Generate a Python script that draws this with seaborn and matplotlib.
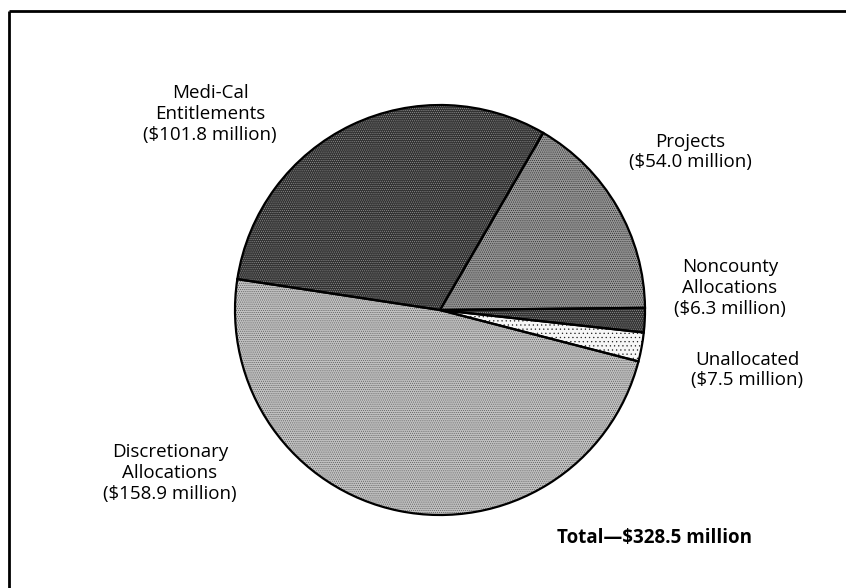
import matplotlib
matplotlib.use("Agg")
import matplotlib.pyplot as plt
import seaborn as sns

# ---- data ----
categories = ["Projects", "Medi-Cal\nEntitlements", "Discretionary\nAllocations",
              "Unallocated", "Noncounty\nAllocations"]
values = [54.0, 101.8, 158.9, 7.5, 6.3]
total_label = "Total\u2014$328.5 million"

sns.set_theme(style="white")
plt.rcParams['font.family'] = ['Open Sans', 'DejaVu Sans']
plt.rcParams['hatch.linewidth'] = 0.4

W, H = 846, 588
fig = plt.figure(figsize=(W / 100, H / 100), dpi=100)
ax = fig.add_axes([0, 0, 1, 1])

cx, cy, r = 440, H - 310, 205

faces = ["#959595", "#333333", "#c0c0c0", "#f6f6f6", "#333333"]
hatch_cols = ["#222222", "#9a9a9a", "#555555", "#222222", "#9a9a9a"]
hatches = ["........", "........", "........", "....", "........"]

wedges, _ = ax.pie(values, startangle=0.6, counterclock=True,
                   center=(cx, cy), radius=r, frame=True)
for w, fc, hc, h in zip(wedges, faces, hatch_cols, hatches):
    w.set_facecolor(fc)
    w.set_edgecolor(hc)
    w.set_hatch(h)
    w.set_linewidth(0)

# outlines
outl, _ = ax.pie(values, startangle=0.6, counterclock=True,
                 center=(cx, cy), radius=r, frame=True,
                 wedgeprops=dict(fill=False, edgecolor="black", linewidth=1.6))

ax.set_xlim(0, W)
ax.set_ylim(0, H)
ax.set_aspect("equal")
ax.axis("off")

# labels
fs = 13.5
ls = 1.2
tc = "black"
lab = [f"{c}\n(${v:.1f} million)" for c, v in zip(categories, values)]
ax.text(690, H - 152, lab[0], ha="center", va="center", fontsize=fs, linespacing=ls, color=tc)
ax.text(210, H - 114, lab[1], ha="center", va="center", fontsize=fs, linespacing=ls, color=tc)
ax.text(170, H - 473, lab[2], ha="center", va="center", fontsize=fs, linespacing=ls, color=tc)
ax.text(747, H - 370, lab[3], ha="center", va="center", fontsize=fs, linespacing=ls, color=tc)
ax.text(730, H - 288, lab[4], ha="center", va="center", fontsize=fs, linespacing=ls, color=tc)
ax.text(557, H - 538, total_label, ha="left", va="center", fontsize=13.5, fontweight="bold", color=tc)

# frame lines (top and left)
ax.plot([9, W], [H - 11, H - 11], color="black", lw=2, solid_capstyle="butt")
ax.plot([9, 9], [H - 11, 0], color="black", lw=2, solid_capstyle="butt")

fig.savefig("out.png", dpi=100)
